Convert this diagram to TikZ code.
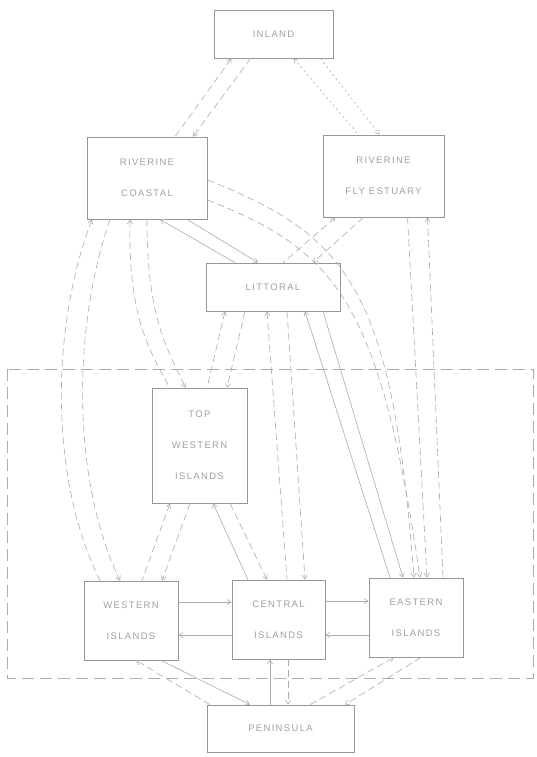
\documentclass[tikz,border=0pt]{standalone}
\usepackage{fontspec}
\setmainfont{Liberation Sans}
\newfontfamily\labfont[LetterSpace=14]{Liberation Sans}
\usetikzlibrary{arrows.meta}
\definecolor{boxc}{RGB}{150,150,150}
\definecolor{linec}{RGB}{172,172,172}
\definecolor{txtc}{RGB}{160,160,160}
\begin{document}
\begin{tikzpicture}[x=1pt,y=-1pt,
 box/.style={draw=boxc,line width=0.7pt,inner sep=0pt,align=center,text=txtc,
   font=\labfont\fontsize{9.5}{31}\selectfont},
 conn/.style={draw=linec,line width=0.6pt},
 dconn/.style={conn,dash pattern=on 7pt off 4pt},
 dotc/.style={conn,dash pattern=on 2pt off 3pt},
 tip/.style={-{Straight Barb[length=4pt,width=5pt]}},
 rtip/.style={{Straight Barb[length=4pt,width=5pt]}-},
 region/.style={draw=linec,line width=0.7pt,dash pattern=on 12pt off 6pt}
]
\fill[white] (0,0) rectangle (536,757);
\useasboundingbox (0,0) rectangle (536,757);

\draw[region] (7,369) rectangle (533,678);

\node[box,minimum width=119pt,minimum height=48pt] (inl) at (273.5,34) {INLAND};
\node[box,minimum width=120pt,minimum height=82pt] (rc) at (147,178) {RIVERINE\\COASTAL};
\node[box,minimum width=121pt,minimum height=82pt] (rfe) at (383.5,176) {RIVERINE\\FLY ESTUARY};
\node[box,minimum width=134pt,minimum height=48pt] (lit) at (273,287) {LITTORAL};
\node[box,minimum width=95pt,minimum height=115pt] (twi) at (199.5,445.5) {TOP\\WESTERN\\ISLANDS};
\node[box,minimum width=94pt,minimum height=79pt] (wi) at (131,620.5) {WESTERN\\ISLANDS};
\node[box,minimum width=93pt,minimum height=79pt] (ci) at (278.5,619.5) {CENTRAL\\ISLANDS};
\node[box,minimum width=94pt,minimum height=79pt] (ei) at (416,617.5) {EASTERN\\ISLANDS};
\node[box,minimum width=147pt,minimum height=47pt] (pen) at (280.5,728.5) {PENINSULA};

% inland - riverine coastal
\draw[dconn,rtip] ([xshift=-42pt]inl.south) -- ([xshift=28pt]rc.north);
\draw[dconn,tip] ([xshift=-23pt]inl.south) -- ([xshift=46pt]rc.north);
% inland - riverine fly estuary
\draw[dotc,rtip] ([xshift=20pt]inl.south) -- ([xshift=-25pt]rfe.north);
\draw[dotc,tip] ([xshift=47pt]inl.south) -- ([xshift=-4pt]rfe.north);
% riverine coastal - littoral
\draw[conn,rtip] ([xshift=13pt]rc.south) -- ([xshift=-38pt]lit.north);
\draw[conn,tip] ([xshift=40pt]rc.south) -- ([xshift=-15pt]lit.north);
% riverine fly estuary - littoral
\draw[dconn,rtip] ([xshift=-48pt]rfe.south) -- ([xshift=10pt]lit.north);
\draw[dconn,tip] ([xshift=-20pt]rfe.south) -- ([xshift=40pt]lit.north);
% riverine coastal - eastern islands
\draw[dconn,tip] ([yshift=-2pt]rc.east) .. controls (350,236) and (392,290) .. ([xshift=-2pt]ei.north);
\draw[dconn,tip] ([yshift=-22pt]rc.east) .. controls (335,250) and (380,300) .. ([xshift=4pt]ei.north);
% riverine fly estuary - eastern islands
\draw[dconn,tip] ([xshift=24pt]rfe.south) -- ([xshift=11pt]ei.north);
\draw[dconn,rtip] ([xshift=44pt]rfe.south) -- ([xshift=27pt]ei.north);
% littoral - top western islands
\draw[dconn,rtip] ([xshift=-48pt]lit.south) -- ([xshift=7.5pt]twi.north);
\draw[dconn,tip] ([xshift=-28pt]lit.south) -- ([xshift=27.5pt]twi.north);
% littoral - central islands
\draw[dconn,rtip] ([xshift=-6pt]lit.south) -- ([xshift=8.5pt]ci.north);
\draw[dconn,tip] ([xshift=14pt]lit.south) -- ([xshift=26.5pt]ci.north);
% littoral - eastern islands
\draw[conn,rtip] ([xshift=32pt]lit.south) -- ([xshift=-26pt]ei.north);
\draw[conn,tip] ([xshift=50pt]lit.south) -- ([xshift=-13pt]ei.north);
% riverine coastal - western islands
\draw[dconn,rtip] ([xshift=-55pt]rc.south) .. controls (50,330) and (50,480) .. ([xshift=-31pt]wi.north);
\draw[dconn,tip] ([xshift=-37pt]rc.south) .. controls (72,330) and (72,480) .. ([xshift=-11pt]wi.north);
% riverine coastal - top western islands
\draw[dconn,rtip] ([xshift=-17pt]rc.south) .. controls (128,320) and (150,350) .. ([xshift=-30pt]twi.north);
\draw[dconn,tip] (rc.south) .. controls (147,320) and (168,350) .. ([xshift=-14pt]twi.north);
% top western islands - western islands
\draw[dconn,rtip] ([xshift=-29.5pt]twi.south) -- ([xshift=11pt]wi.north);
\draw[dconn,tip] ([xshift=-9.5pt]twi.south) -- ([xshift=31pt]wi.north);
% top western islands - central islands
\draw[conn,rtip] ([xshift=13.5pt]twi.south) -- ([xshift=-30.5pt]ci.north);
\draw[dconn,tip] ([xshift=30.5pt]twi.south) -- ([xshift=-11.5pt]ci.north);
% western - central
\draw[conn,tip] ([yshift=18.5pt]wi.east) -- ([yshift=17.5pt]ci.west);
\draw[conn,tip] ([yshift=-15.5pt]ci.west) -- ([yshift=-14.5pt]wi.east);
% central - eastern
\draw[conn,tip] ([yshift=18.5pt]ci.east) -- ([yshift=16.5pt]ei.west);
\draw[conn,tip] ([yshift=-17.5pt]ei.west) -- ([yshift=-15.5pt]ci.east);
% peninsula
\draw[conn,tip] ([xshift=30pt]wi.south) -- ([xshift=-30.5pt]pen.north);
\draw[dconn,tip] ([xshift=-70.5pt]pen.north) -- ([xshift=5pt]wi.south);
\draw[conn,tip] ([xshift=-10.5pt]pen.north) -- ([xshift=-8.5pt]ci.south);
\draw[dconn,tip] ([xshift=9.5pt]ci.south) -- ([xshift=7.5pt]pen.north);
\draw[dconn,tip] ([xshift=29.5pt]pen.north) -- ([xshift=-22pt]ei.south);
\draw[dconn,tip] ([xshift=5pt]ei.south) -- ([xshift=64.5pt]pen.north);
\end{tikzpicture}
\end{document}
